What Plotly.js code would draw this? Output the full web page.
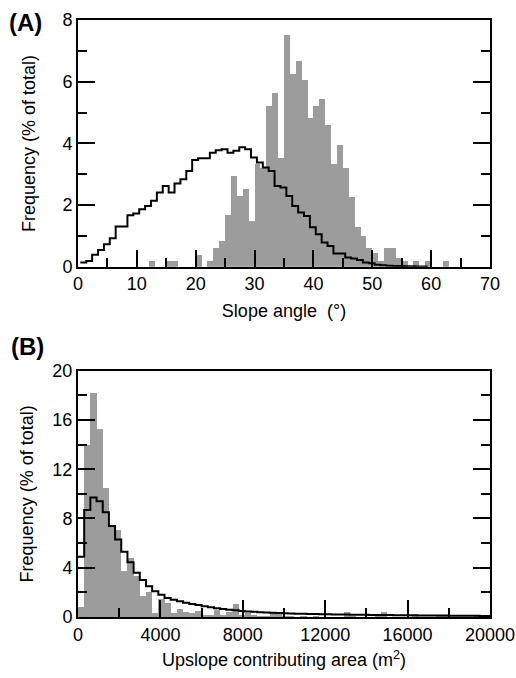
<!DOCTYPE html>
<html>
<head>
<meta charset="utf-8">
<script src="https://cdn.plot.ly/plotly-3.0.1.min.js"></script>
<style>html,body{margin:0;padding:0;background:#fff;}#chart{width:516px;height:678px;}</style>
</head>
<body>
<div id="chart"></div>
<script>
// ---- Panel A: slope angle, 1-degree bins (bin index = degree) ----
const slopeLandslide = [0,0,0,0,0,0,0,0,0,0,0,0,0.2,0,0,0.2,0.2,0,0,0,
  0.4,0,0.2,0.6,0.84,1.67,2.93,2.3,2.51,1.49,
  3.32,3.2,5.21,5.64,3.54,7.51,6.26,6.67,6.04,4.81,
  5.21,5.43,4.6,3.32,3.95,3.19,2.27,1.28,1.0,0.6,
  0.45,0.2,0.61,0.61,0.3,0.2,0,0.2,0,0.2,0,0,0.2,0,0,0,0,0,0,0];
const slopeLandscape = [0.14,0.19,0.39,0.55,0.73,0.93,1.31,1.31,1.67,1.73,
  1.87,1.97,2.14,2.41,2.62,2.41,2.70,2.84,3.11,3.46,
  3.52,3.52,3.70,3.78,3.81,3.70,3.76,3.88,3.81,3.54,
  3.38,3.22,3.11,2.62,2.57,2.3,1.97,1.76,1.65,1.28,
  1.06,0.79,0.68,0.43,0.43,0.30,0.27,0.22,0.14,0.12,
  0.07,0.05,0.04,0.03,0.03,0.02,0.02,0.01,0.01];
const slopeBinWidth = 1;
const slopeLineStart = 0.4;

// ---- Panel B: upslope contributing area, 300 m2 bins ----
const areaLandslide = [0.8,14.0,18.2,15.3,10.5,7.3,7.1,3.7,4.8,3.3,
  1.7,2.0,0.3,1.45,1.1,0.35,0.65,0.4,0.3,0.45,
  0.2,0.2,0.6,0.2,0.4,1.05,0.2,0.3,0.15,0.1,
  0.1,0.35,0.35,0.1,0.1,0,0.1,0,0.1,0,
  0,0,0,0.4,0.1,0,0,0,0.1,0.4,
  0,0,0,0,0.1,0,0,0,0.15,0.1,
  0,0,0,0,0.15,0.1,0];
const areaLandscape = [4.9,8.7,9.7,9.4,8.5,7.4,6.3,5.3,4.45,3.6,
  3.0,2.5,2.1,1.8,1.55,1.4,1.27,1.15,1.05,0.97,
  0.88,0.8,0.72,0.65,0.59,0.54,0.49,0.45,0.42,0.39,
  0.36,0.34,0.32,0.3,0.28,0.27,0.26,0.25,0.24,0.23,
  0.22,0.21,0.2,0.2,0.19,0.18,0.18,0.17,0.17,0.16,
  0.16,0.15,0.15,0.14,0.14,0.13,0.13,0.12,0.12,0.12,
  0.11,0.11,0.1,0.1,0.1,0.09,0.09];
const areaBinWidth = 300;

const GRAY = '#9c9c9c';
const FONT = 'Liberation Sans, Arial, Helvetica, sans-serif';

function barTrace(vals, w, xa, ya) {
  return {type:'bar', x: vals.map((_, i) => i*w + w/2), y: vals, width: w,
    marker:{color:GRAY, line:{width:0}}, xaxis:xa, yaxis:ya, hoverinfo:'skip'};
}
function stepTrace(vals, w, start, xa, ya) {
  const xs = vals.map((_, i) => start + i*w);
  const ys = vals.slice();
  xs.push(start + vals.length*w); ys.push(vals[vals.length-1]);
  return {type:'scatter', mode:'lines', x: xs, y: ys, line:{shape:'hv', color:'#000', width:2},
    xaxis:xa, yaxis:ya, hoverinfo:'skip'};
}

const traces = [
  barTrace(slopeLandslide, slopeBinWidth, 'x', 'y'),
  stepTrace(slopeLandscape, slopeBinWidth, slopeLineStart, 'x', 'y'),
  barTrace(areaLandslide, areaBinWidth, 'x2', 'y2'),
  stepTrace(areaLandscape, areaBinWidth, 0, 'x2', 'y2')
];

const TF = {family:FONT, size:18, color:'#000'};
function axisBase(extra) {
  return Object.assign({
    showline:true, linecolor:'#000', linewidth:2, showgrid:false, zeroline:false,
    ticks:'inside', ticklen:17, tickwidth:2, tickcolor:'#000',
    tickfont:TF, fixedrange:true
  }, extra);
}
const minorX = (d) => ({ticks:'inside', ticklen:9, tickwidth:2, tickcolor:'#000', dtick:d});

const layout = {
  width:516, height:678,
  margin:{l:78, r:26, t:20, b:61},
  paper_bgcolor:'#fff', plot_bgcolor:'#fff',
  showlegend:false, barmode:'overlay', bargap:0,
  font:TF,
  xaxis: axisBase({domain:[0,1], anchor:'y', range:[0,70], dtick:10, tick0:0, mirror:true,
    minor:minorX(5),
    title:{text:'Slope angle  (°)', font:TF, standoff:11}}),
  yaxis: axisBase({domain:[0.5865,1], anchor:'x', range:[0,8], dtick:2, tick0:0, mirror:'ticks',
    minor:minorX(1),
    title:{text:'Frequency (% of total)', font:TF, standoff:22}}),
  xaxis2: axisBase({domain:[0,1], anchor:'y2', range:[0,20000], dtick:4000, tick0:0, mirror:true,
    tickformat:'d', minor:minorX(2000),
    title:{text:'Upslope contributing area (m<sup>2</sup>)', font:TF, standoff:10}}),
  yaxis2: axisBase({domain:[0,0.4125], anchor:'x2', range:[0,20], dtick:4, tick0:0, mirror:'ticks',
    minor:minorX(2),
    title:{text:'Frequency (% of total)', font:TF, standoff:14}}),
  annotations:[
    {text:'<b>(A)</b>', xref:'paper', yref:'paper', x:-0.172, y:0.996, xanchor:'left', yanchor:'middle',
     showarrow:false, font:{family:FONT, size:24, color:'#000'}},
    {text:'<b>(B)</b>', xref:'paper', yref:'paper', x:-0.167, y:0.453, xanchor:'left', yanchor:'middle',
     showarrow:false, font:{family:FONT, size:24, color:'#000'}}
  ]
};

Plotly.newPlot('chart', traces, layout, {displayModeBar:false, staticPlot:true});
</script>
</body>
</html>
